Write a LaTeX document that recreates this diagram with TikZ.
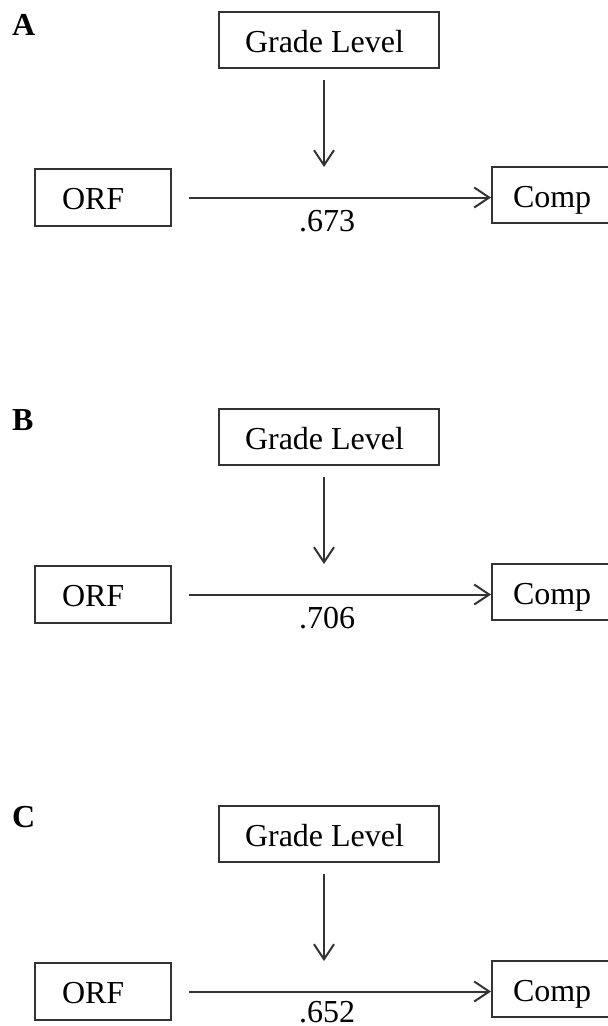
\documentclass[tikz,border=0pt]{standalone}
\usepackage{fontspec}
\setmainfont{Liberation Serif}
\usetikzlibrary{arrows.meta}
\begin{document}
\begin{tikzpicture}[x=1pt, y=-1pt,
  font=\fontsize{32}{38}\selectfont,
  box/.style={draw=black!80, line width=2pt, inner ysep=0pt, align=flush left,
              text height=24pt, text depth=0pt},
  link/.style={draw=black!80, line width=2pt,
               -{Straight Barb[length=15pt, width=20pt]}},
  panellabel/.style={anchor=base west, inner sep=0pt, font=\fontsize{32}{38}\selectfont\bfseries},
  coef/.style={anchor=base, inner sep=0pt}]
  \clip (0,0) rectangle (608,1026);
  \fill[white] (0,0) rectangle (608,1026);
  % three moderation panels: letter / box offset / label offset / coefficient baseline / coefficient
  \foreach \L/\off/\loff/\vy/\val in {A/0/0/231/.673, B/397/395/628/.706, C/794/792/1022/.652}{
    \node[panellabel] (lab\L) at (12, 35+\loff) {\L};
    \node[box, inner xsep=26pt, text width=168pt, minimum height=56pt] (g\L) at (329, 40+\off) {Grade Level};
    \node[box, inner xsep=27pt, text width=82pt, minimum height=57pt] (o\L) at (103, 197.5+\off) {ORF};
    \node[box, inner xsep=21pt, text width=76pt, minimum height=56pt] (c\L) at (551, 195+\off) {Comp};
    \coordinate (m\L) at (324, 167+\off);
    \draw[link, shorten <=11pt] (g\L.south -| m\L) -- (m\L);
    \draw[link, shorten <=17pt] (o\L.east) -- (o\L.east -| c\L.west);
    \node[coef] (v\L) at (327, \vy) {\val};
  }
\end{tikzpicture}
\end{document}
